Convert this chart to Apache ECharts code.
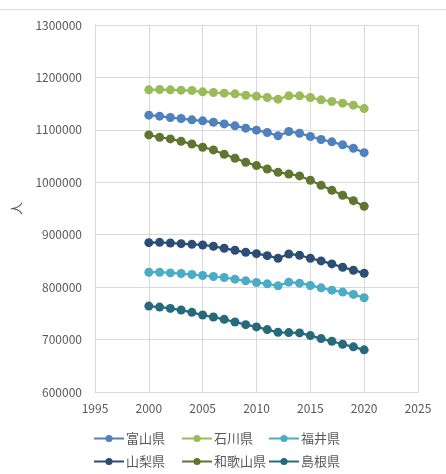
<!DOCTYPE html>
<html>
<head>
<meta charset="utf-8">
<script src="https://cdn.jsdelivr.net/npm/echarts@6/dist/echarts.min.js"></script>
<style>
html,body{margin:0;padding:0;background:#fff;}
#c{width:446px;height:474px;}
</style>
</head>
<body>
<div id="c"></div>
<script>
const years = [2000,2001,2002,2003,2004,2005,2006,2007,2008,2009,2010,2011,2012,2013,2014,2015,2016,2017,2018,2019,2020];
const seriesNames = ['富山県','石川県','福井県','山梨県','和歌山県','島根県'];
const toyama   = [1128000,1126100,1123500,1121600,1119100,1117200,1114600,1111400,1107600,1103200,1099400,1094900,1088600,1096800,1093600,1087300,1081600,1077100,1071400,1065000,1056500];
const ishikawa = [1176300,1176900,1176300,1175700,1175000,1172500,1171200,1170000,1168700,1166100,1164200,1161700,1158500,1164900,1164900,1161700,1157200,1154100,1150900,1147100,1140500];
const fukui    = [828500,828500,827200,826000,824100,822200,820300,818400,815200,812000,808900,806300,802500,809500,807600,803200,798700,794300,790500,786100,779700];
const yamanashi= [884800,885500,884200,882900,881700,880400,877900,874100,870300,866500,863900,860100,855100,863300,860800,855100,850000,844300,838000,832300,826600];
const wakayama = [1090300,1085900,1082700,1078200,1073100,1066800,1061700,1053400,1045800,1038200,1031800,1025400,1019100,1015900,1012100,1003800,994300,984700,975200,965000,954200];
const shimane  = [763900,762000,759500,756300,751900,746800,743000,738600,733500,728500,724100,719000,713900,713300,712700,707600,701900,696800,691100,686100,680400];
const valueSets = [toyama, ishikawa, fukui, yamanashi, wakayama, shimane];
const colors = ['#4F81BD','#9BBB59','#4BACC6','#2C4D75','#5F7530','#276A7C'];

const font = '"Noto Sans CJK JP", "Noto Sans", sans-serif';
const legendPos = [[93,432],[181,432],[268,432],[93,455],[181,455],[268,455]];

const chart = echarts.init(document.getElementById('c'), null, {renderer:'canvas'});
chart.setOption({
  animation: false,
  backgroundColor: '#fff',
  color: colors,
  grid: {left: 95, right: 28, top: 25, bottom: 82, containLabel: false},
  xAxis: {
    type: 'value', min: 1995, max: 2025, interval: 5,
    axisLine: {show: true, lineStyle: {color: '#d9d9d9', width: 1}},
    axisTick: {show: false},
    splitLine: {show: true, lineStyle: {color: '#d9d9d9', width: 1}},
    axisLabel: {color: '#595959', fontSize: 12, fontFamily: font, margin: 10, formatter: v => String(v)}
  },
  yAxis: {
    type: 'value', min: 600000, max: 1300000, interval: 100000,
    name: '人', nameLocation: 'middle', nameRotate: 90, nameGap: 72,
    nameTextStyle: {color: '#595959', fontSize: 13, fontFamily: font},
    axisLine: {show: true, lineStyle: {color: '#d9d9d9', width: 1}},
    axisTick: {show: false},
    splitLine: {show: true, lineStyle: {color: '#d9d9d9', width: 1}},
    axisLabel: {color: '#595959', fontSize: 12, fontFamily: font, margin: 13, formatter: v => String(v)}
  },
  legend: seriesNames.map((n, i) => ({
    data: [n], left: legendPos[i][0], top: legendPos[i][1],
    itemWidth: 30, itemHeight: 9, padding: 0,
    textStyle: {color: '#595959', fontSize: 13, fontFamily: font, padding: [0,0,0,-3]}
  })),
  graphic: [{
    type: 'line', silent: true,
    shape: {x1: 0, y1: 9.5, x2: 446, y2: 9.5},
    style: {stroke: '#d9d9d9', lineWidth: 1}
  }],
  series: seriesNames.map((n, i) => ({
    name: n, type: 'line',
    data: years.map((y, k) => [y, valueSets[i][k]]),
    symbol: 'circle', symbolSize: 9,
    lineStyle: {width: 2.25, color: colors[i]},
    itemStyle: {color: colors[i]}
  }))
});
</script>
</body>
</html>
